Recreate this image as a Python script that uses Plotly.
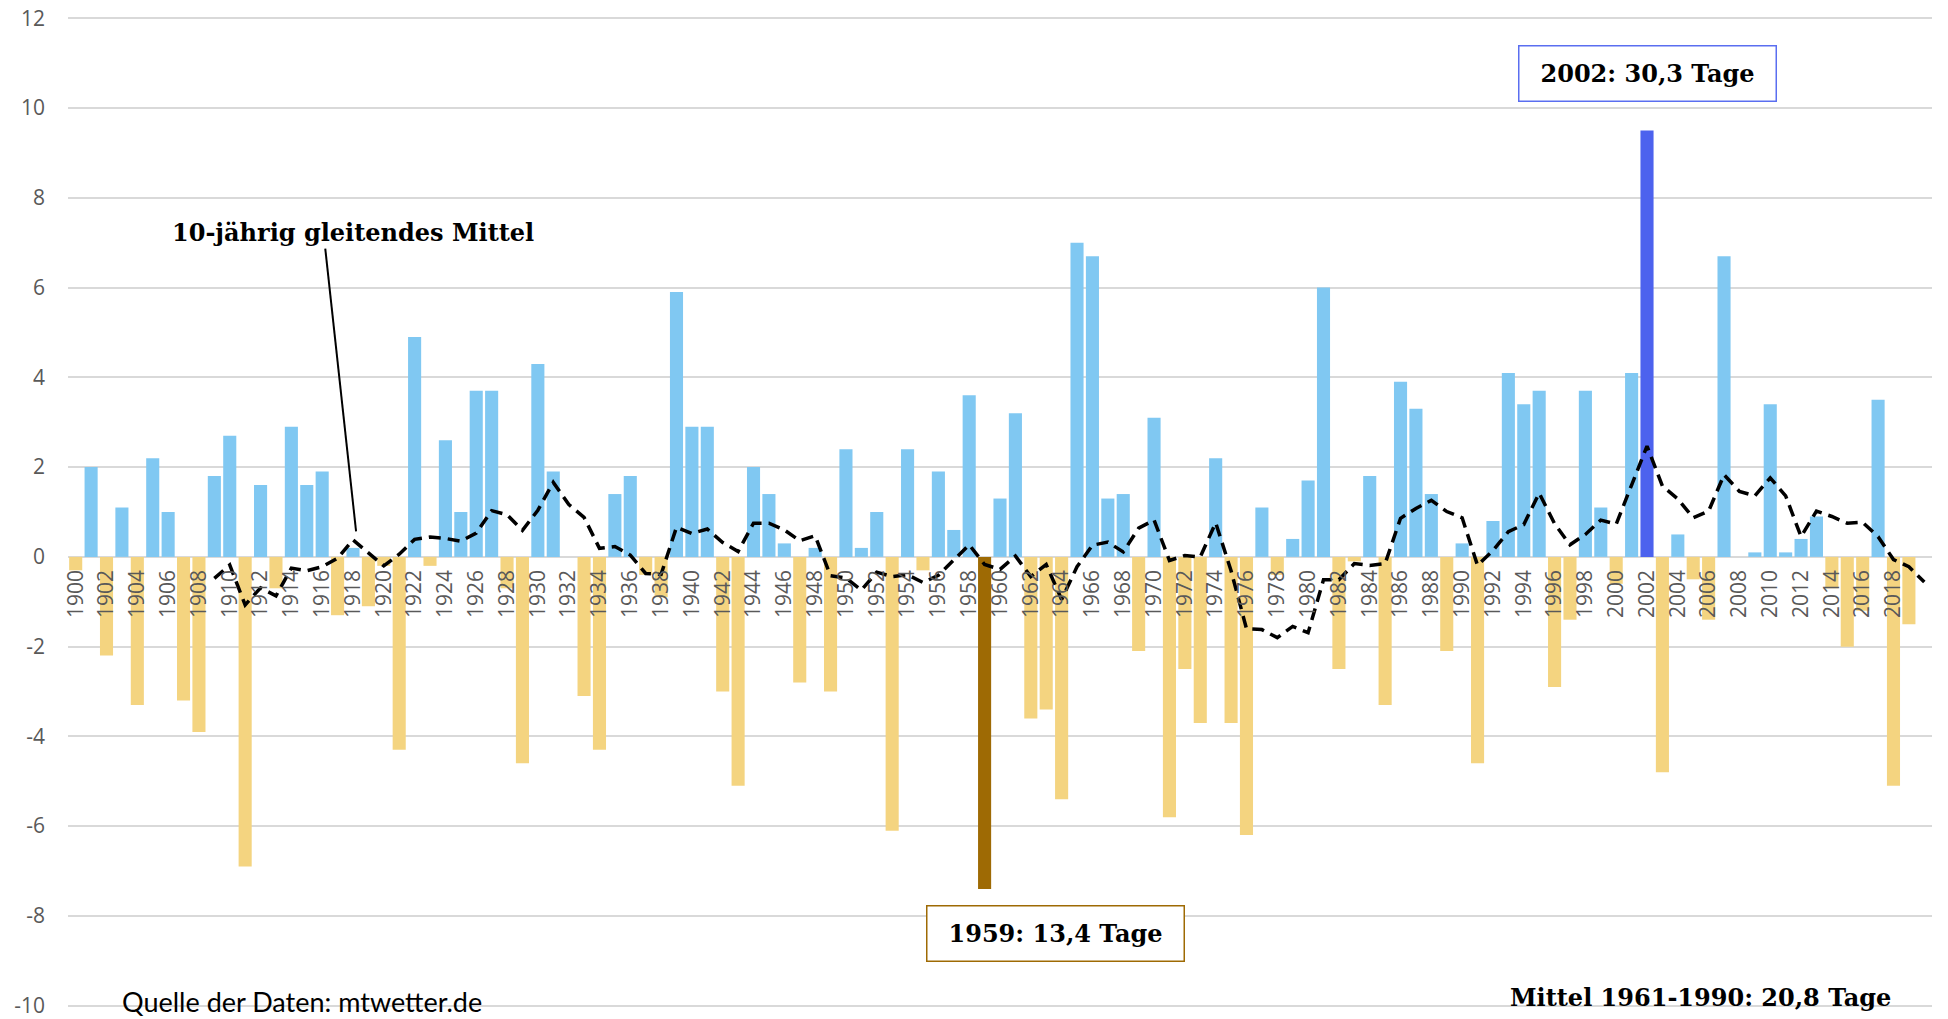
import plotly.graph_objects as go
import pandas as pd

# ---- data (Abweichung vom Mittel 1961-1990, Tage) ----
years = list(range(1900, 2020))
values = [
    -0.3, 2.0, -2.2, 1.1, -3.3, 2.2, 1.0, -3.2, -3.9, 1.8,   # 1900-1909
    2.7, -6.9, 1.6, -0.7, 2.9, 1.6, 1.9, -1.3, 0.2, -1.1,    # 1910-1919
    -0.2, -4.3, 4.9, -0.2, 2.6, 1.0, 3.7, 3.7, -0.7, -4.6,   # 1920-1929
    4.3, 1.9, 0.0, -3.1, -4.3, 1.4, 1.8, -0.4, -0.9, 5.9,    # 1930-1939
    2.9, 2.9, -3.0, -5.1, 2.0, 1.4, 0.3, -2.8, 0.2, -3.0,    # 1940-1949
    2.4, 0.2, 1.0, -6.1, 2.4, -0.3, 1.9, 0.6, 3.6, -7.4,     # 1950-1959
    1.3, 3.2, -3.6, -3.4, -5.4, 7.0, 6.7, 1.3, 1.4, -2.1,    # 1960-1969
    3.1, -5.8, -2.5, -3.7, 2.2, -3.7, -6.2, 1.1, -0.4, 0.4,  # 1970-1979
    1.7, 6.0, -2.5, -0.1, 1.8, -3.3, 3.9, 3.3, 1.4, -2.1,    # 1980-1989
    0.3, -4.6, 0.8, 4.1, 3.4, 3.7, -2.9, -1.4, 3.7, 1.1,     # 1990-1999
    -0.6, 4.1, 9.5, -4.8, 0.5, -0.5, -1.4, 6.7, 0.0, 0.1,    # 2000-2009
    3.4, 0.1, 0.4, 0.9, -0.7, -2.0, -1.2, 3.5, -5.1, -1.5,   # 2010-2019
]
line_years = list(range(1900, 2021))          # 2020 category present but empty
tick_years = list(range(1900, 2019, 2))
tick_labels = [str(y) for y in tick_years]
y_ticks = list(range(-10, 13, 2))
y_tick_labels = [str(v) for v in y_ticks]

min_year, max_year = 1959, 2002

# 10-year moving average (Excel trendline, blank cell counted as 0)
series = pd.Series(values + [None], index=line_years, dtype="float")
moving_avg = series.fillna(0).rolling(10).mean()

# ---- colours ----
c_pos = "#80C8F2"
c_neg = "#F4D480"
c_max = "#4C62EE"
c_min = "#9E6A04"
bar_colors = []
for y, v in zip(years, values):
    if y == max_year:
        bar_colors.append(c_max)
    elif y == min_year:
        bar_colors.append(c_min)
    else:
        bar_colors.append(c_pos if v >= 0 else c_neg)

fig = go.Figure()
fig.add_trace(go.Bar(x=years, y=values, marker=dict(color=bar_colors, line=dict(width=0)),
                     showlegend=False, hoverinfo="x+y"))
fig.add_trace(go.Scatter(x=line_years, y=moving_avg, mode="lines",
                         line=dict(color="black", width=3.5, dash="12px,7px"),
                         showlegend=False, connectgaps=False))

serif = "DejaVu Serif"
fig.add_annotation(x=1918.0, y=7.23, xref="x", yref="y", text="<b>10-jährig gleitendes Mittel</b>",
                   showarrow=False, font=dict(family=serif, size=24, color="black"))
fig.add_shape(type="line", xref="x", yref="y", x0=1916.2, y0=6.87, x1=1918.2, y1=0.57,
              line=dict(color="black", width=2))
fig.add_annotation(x=2002.05, y=10.77, xref="x", yref="y", text="<b>2002: 30,3 Tage</b>",
                   showarrow=False, font=dict(family=serif, size=24, color="black"),
                   bgcolor="white", bordercolor="#5A6EF0", borderwidth=1.5, borderpad=8,
                   width=240, height=38)
fig.add_annotation(x=1963.57, y=-8.39, xref="x", yref="y", text="<b>1959: 13,4 Tage</b>",
                   showarrow=False, font=dict(family=serif, size=24, color="black"),
                   bgcolor="white", bordercolor=c_min, borderwidth=1.5, borderpad=8,
                   width=240, height=38)
fig.add_annotation(x=1902.9, y=-9.9, xref="x", yref="y", text="Quelle der Daten: mtwetter.de",
                   showarrow=False, xanchor="left", font=dict(family="Lato", size=27, color="black"))
fig.add_annotation(x=2018.0, y=-9.82, xref="x", yref="y", text="<b>Mittel 1961-1990: 20,8 Tage</b>",
                   showarrow=False, xanchor="right", font=dict(family=serif, size=24, color="black"))

fig.update_layout(
    width=1948, height=1019,
    margin=dict(l=68, r=16, t=17, b=12),
    plot_bgcolor="white", paper_bgcolor="white",
    bargap=0.15,
    xaxis=dict(range=[1899.5, 2020.5], tickmode="array", tickvals=tick_years, ticktext=tick_labels,
               tickangle=-90, showgrid=False, zeroline=False, showline=False, ticks="",
               anchor="free", position=10.03 / 22.06, automargin=False, ticklabelstandoff=8,
               tickfont=dict(family="Open Sans", size=21, color="#595959")),
    yaxis=dict(range=[-10.03, 12.03], tickmode="array", tickvals=y_ticks, ticktext=y_tick_labels,
               showgrid=True, gridcolor="#D9D9D9", gridwidth=1.5,
               zeroline=True, zerolinecolor="#D9D9D9", zerolinewidth=1.5,
               showline=False, ticks="", automargin=False, ticklabelstandoff=22,
               ticklabeloverflow="allow",
               tickfont=dict(family="Open Sans", size=21, color="#595959")),
)

fig.write_html("out.html", config={"displayModeBar": False},
               post_script="document.body.style.margin='0';document.body.style.overflow='hidden';")
